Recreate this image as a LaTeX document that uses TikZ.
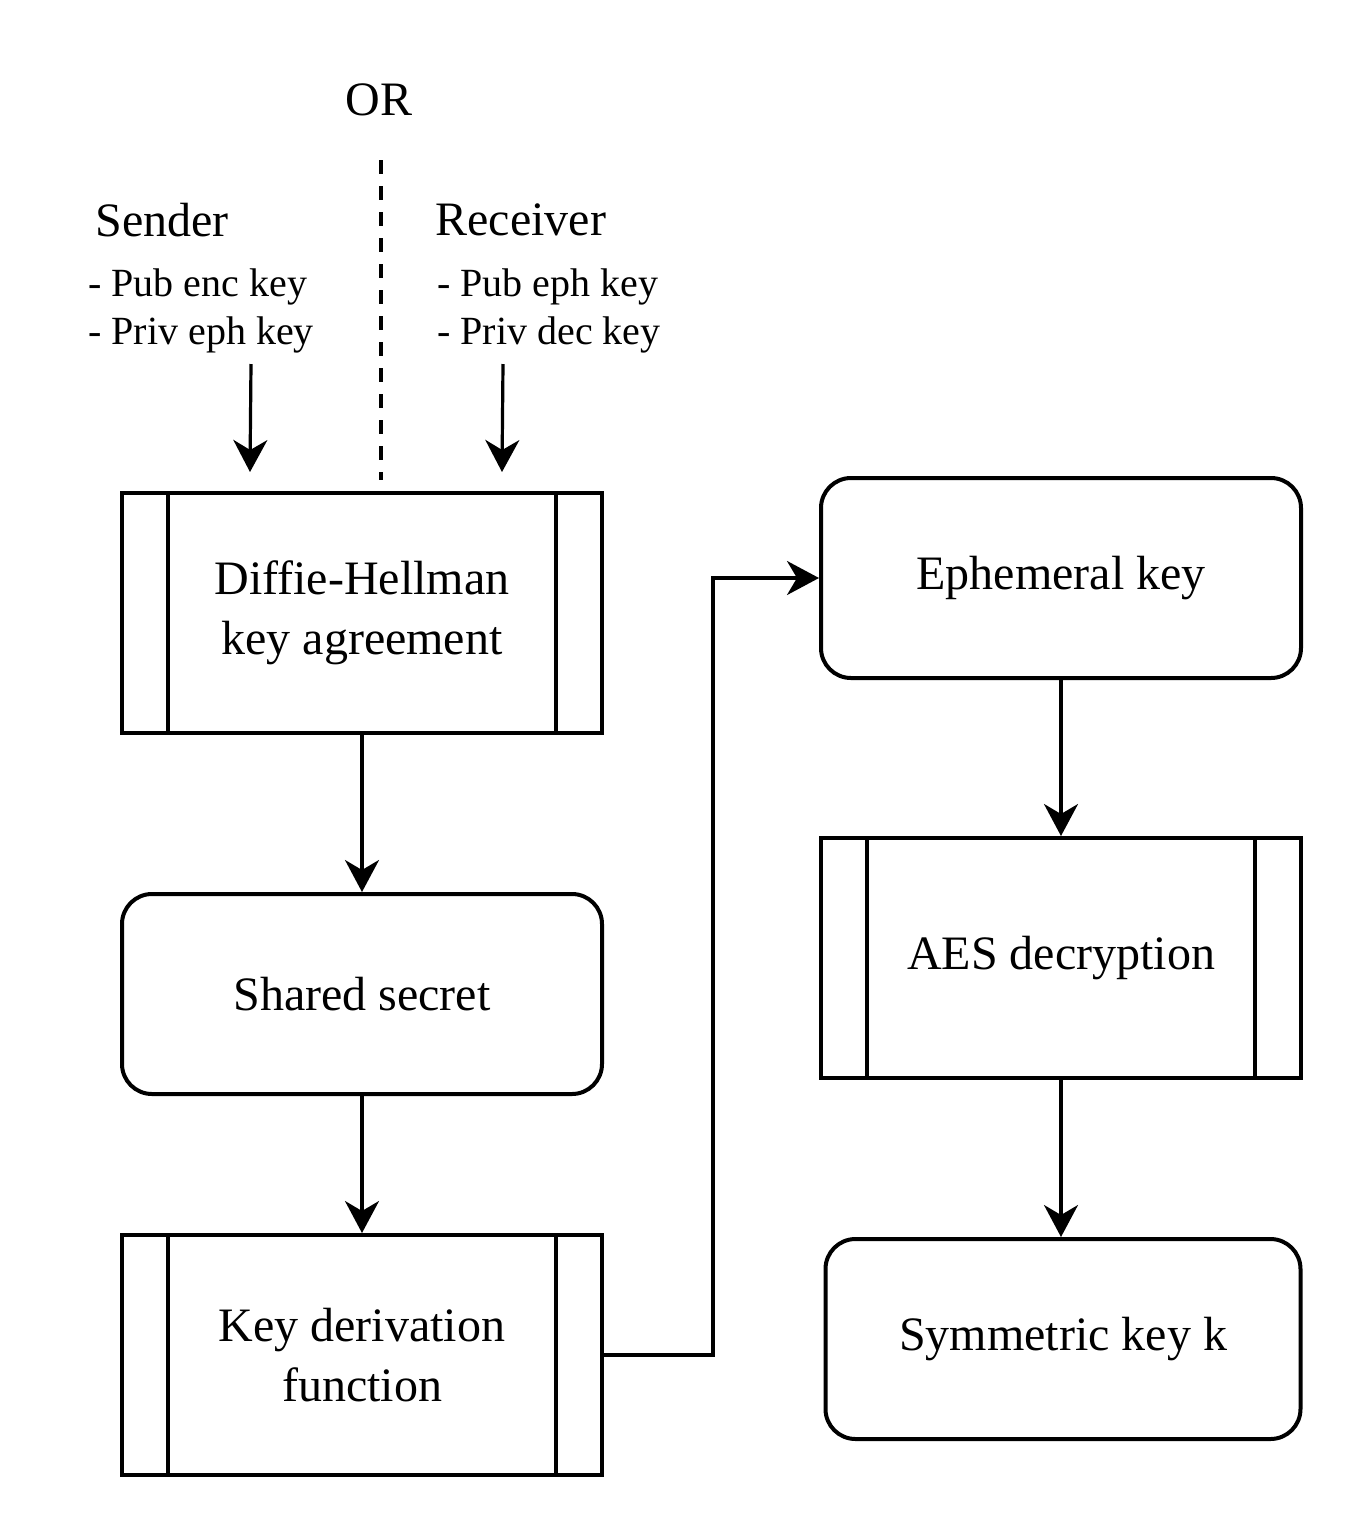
\documentclass[tikz,border=0pt]{standalone}
\usepackage{fontspec}
\setmainfont{Liberation Serif}
\usepackage{tikz}
\usetikzlibrary{arrows.meta, positioning}
\tikzstyle{process} = [draw, rectangle, line width=2pt, minimum height=120pt,
	minimum width=240pt, align=center, font=\fontsize{24}{30}\selectfont]
\tikzstyle{keybox} = [draw, rectangle, rounded corners=15pt, line width=2pt,
	minimum height=100pt, minimum width=240pt, align=center,
	font=\fontsize{24}{30}\selectfont]
\tikzstyle{title} = [inner sep=0pt, font=\fontsize{24}{30}\selectfont]
\tikzstyle{keys} = [inner sep=0pt, align=left, font=\fontsize{20}{24}\selectfont]
\tikzstyle{line} = [draw, line width=1.6pt, -{Stealth[length=16pt, width=17pt, inset=5pt]}]

\begin{document}
\begin{tikzpicture}[x=0.5pt, y=-0.5pt, node distance=78pt]
		\useasboundingbox (0,0) rectangle (1348,1516);

		\node [title] (or) at (379,100) {OR};
		\node [title, anchor=west] (sender) at (95,220) {Sender};
		\node [keys, anchor=west] (senderkeys) at (88,311) {- Pub enc key\\- Priv eph key};
		\node [title, anchor=west] (receiver) at (435,220) {Receiver};
		\node [keys, anchor=west] (receiverkeys) at (437,311) {- Pub eph key\\- Priv dec key};

		\node [process] (dh) at (362,613) {Diffie-Hellman\\key agreement};
		\node [keybox, below=78.5pt of dh] (shared) {Shared secret};
		\node [process, below=68.5pt of shared] (kdf) {Key derivation\\function};
		\node [keybox] (eph) at (1061,578) {Ephemeral key};
		\node [process, below=of eph] (aes) {AES decryption};
		\node [keybox, below=78.5pt of aes, minimum width=237.5pt, xshift=1pt] (sym) {Symmetric key k};

		% side bars of the process boxes
		\foreach \n in {dh, kdf, aes} {
			\draw [line width=2pt] ([xshift=24pt]\n.north west) -- ([xshift=24pt]\n.south west);
			\draw [line width=2pt] ([xshift=-24pt]\n.north east) -- ([xshift=-24pt]\n.south east);
		}

		\coordinate (sendfrom) at (251,364);
		\coordinate (sendto) at (250,472);
		\coordinate (recvfrom) at (503,364);
		\coordinate (recvto) at (502,472);
		\coordinate (ortop) at (381,160);
		\coordinate (orbottom) at (381,480);

		\draw [line width=1.6pt, dash pattern=on 7pt off 6pt] (ortop) -- (orbottom);
		\path [line] (sendfrom) -- (sendto);
		\path [line] (recvfrom) -- (recvto);
		\path [line] (dh) -- (shared);
		\path [line] (shared) -- (kdf);
		\path [line] (kdf.east) -- ++(109,0) |- (eph.west);
		\path [line] (eph) -- (aes);
		\path [line] (aes) -- (aes.south |- sym.north);
	\end{tikzpicture}
\end{document}
